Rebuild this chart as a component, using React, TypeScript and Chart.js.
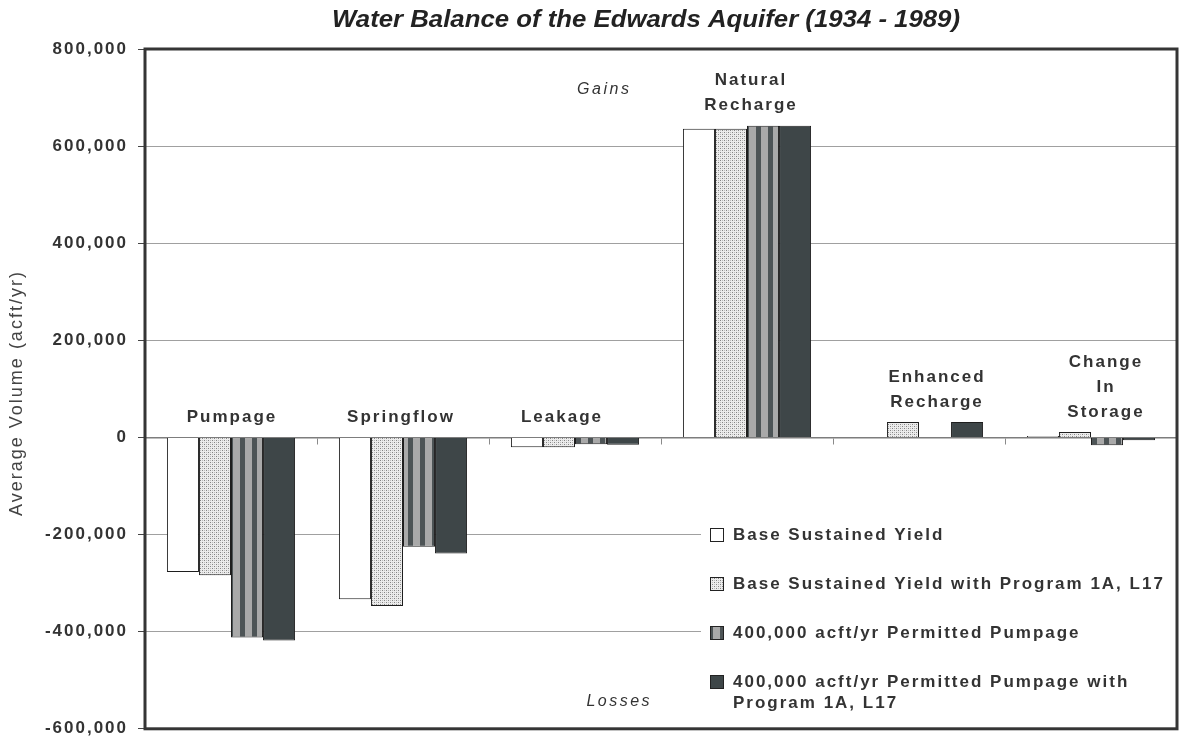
import React, { useEffect, useRef } from 'react';
import { Chart, registerables } from 'chart.js';

Chart.register(...registerables);

// ---------- data ----------
const categories = ['Pumpage', 'Springflow', 'Leakage', 'Natural Recharge', 'Enhanced Recharge', 'Change in Storage'];
const categoryLabelLines = [['Pumpage'], ['Springflow'], ['Leakage'], ['Natural', 'Recharge'], ['Enhanced', 'Recharge'], ['Change', 'In', 'Storage']];
const seriesNames = [
  'Base Sustained Yield',
  'Base Sustained Yield with Program 1A, L17',
  '400,000 acft/yr Permitted Pumpage',
  '400,000 acft/yr Permitted Pumpage with Program 1A, L17',
];
const baseSustainedYield = [-277000, -333000, -20000, 636000, 0, 3000];
const baseWithProgram = [-284000, -347000, -20000, 636000, 32000, 11000];
const permitted400k = [-412000, -225000, -14000, 642000, 0, -16000];
const permitted400kWithProgram = [-418000, -239000, -15000, 642000, 32000, -6000];
const yMin = -600000;
const yMax = 800000;
const yStep = 200000;
const chartTitle = 'Water Balance of the Edwards Aquifer (1934 - 1989)';
const yAxisTitle = 'Average Volume (acft/yr)';
const gainsText = 'Gains';
const lossesText = 'Losses';

// ---------- styling ----------
const labelNudge = [0, -3, -14, 3, 17, 14];
const TEXT = '#333333';
const FONT = '"Liberation Sans", Arial, sans-serif';

function makeStipple(): CanvasPattern | string {
  const c = document.createElement('canvas');
  c.width = 4; c.height = 4;
  const g = c.getContext('2d')!;
  g.fillStyle = '#ececec';
  g.fillRect(0, 0, 4, 4);
  g.fillStyle = '#848484';
  g.fillRect(0, 0, 1, 1);
  g.fillRect(2, 2, 1, 1);
  g.fillStyle = '#bdbdbd';
  g.fillRect(2, 0, 1, 1);
  g.fillRect(0, 2, 1, 1);
  return g.createPattern(c, 'repeat') || '#cccccc';
}

function makeStripes(): CanvasPattern | string {
  const c = document.createElement('canvas');
  c.width = 12; c.height = 4;
  const g = c.getContext('2d')!;
  g.fillStyle = '#a9a9a9';
  g.fillRect(0, 0, 12, 4);
  g.fillStyle = '#4d5456';
  g.fillRect(0, 0, 5, 4);
  return g.createPattern(c, 'repeat') || '#777777';
}

function drawText(ctx: CanvasRenderingContext2D, s: string, x: number, y: number, font: string, align: string, spacing: number, color: string) {
  ctx.font = font;
  (ctx as any).letterSpacing = spacing + 'px';
  ctx.fillStyle = color;
  ctx.textBaseline = 'middle';
  ctx.textAlign = 'left';
  const w = ctx.measureText(s).width - spacing;
  let sx = x;
  if (align === 'center') sx = x - w / 2;
  else if (align === 'right') sx = x - w;
  ctx.fillText(s, sx, y);
}

function wrapWords(ctx: CanvasRenderingContext2D, s: string, maxW: number): string[] {
  const words = s.split(' ');
  const lines: string[] = [];
  let cur = '';
  for (const w of words) {
    const t = cur ? cur + ' ' + w : w;
    if (ctx.measureText(t).width > maxW && cur) {
      lines.push(cur);
      cur = w;
    } else cur = t;
  }
  if (cur) lines.push(cur);
  return lines;
}

export default function App() {
  const ref = useRef<HTMLCanvasElement | null>(null);

  useEffect(() => {
    const canvas = ref.current;
    if (!canvas) return;
    const stipple = makeStipple();
    const stripes = makeStripes();
    const fills: any[] = ['#ffffff', stipple, stripes, '#3e4648'];
    const seriesData = [baseSustainedYield, baseWithProgram, permitted400k, permitted400kWithProgram];

    const decor = {
      id: 'decor',
      beforeDraw(chart: any) {
        (chart.ctx as any).letterSpacing = '2px';
      },
      afterDraw(chart: any) {
        const ctx: CanvasRenderingContext2D = chart.ctx;
        const { left, right, top, bottom } = chart.chartArea;
        const xs = chart.scales.x;
        const ys = chart.scales.y;
        ctx.save();

        // title (condensed bold italic)
        ctx.font = `italic bold 24px "Liberation Sans Narrow", ${FONT}`;
        (ctx as any).letterSpacing = '0px';
        const tw = ctx.measureText(chartTitle).width;
        ctx.save();
        ctx.translate(646, 20);
        ctx.scale(628 / tw, 1);
        ctx.fillStyle = '#222';
        ctx.textAlign = 'center';
        ctx.textBaseline = 'middle';
        ctx.fillText(chartTitle, 0, 0);
        ctx.restore();

        // y axis title
        ctx.save();
        ctx.translate(17, 394);
        ctx.rotate(-Math.PI / 2);
        drawText(ctx, yAxisTitle, 0, 0, `18px ${FONT}`, 'center', 2, '#444');
        ctx.restore();

        // category labels
        categories.forEach((_, i) => {
          const maxVal = Math.max(0, ...seriesData.map((d) => d[i]));
          const yTop = ys.getPixelForValue(maxVal);
          const cx = xs.getPixelForValue(i) + labelNudge[i];
          const lines = categoryLabelLines[i];
          lines.forEach((ln, j) => {
            const cy = yTop - 20 - (lines.length - 1 - j) * 25;
            drawText(ctx, ln, cx, cy, `bold 17px ${FONT}`, 'center', 2, TEXT);
          });
        });

        // gains / losses
        drawText(ctx, gainsText, 603, 90, `italic 16px ${FONT}`, 'center', 2.5, TEXT);
        drawText(ctx, lossesText, 618, 702, `italic 16px ${FONT}`, 'center', 2.5, TEXT);

        // legend
        ctx.fillStyle = '#ffffff';
        ctx.fillRect(701, 512, right - 701 - 1, 212);
        chart.data.datasets.forEach((ds: any, i: number) => {
          const ry = 535 + i * 49;
          ctx.fillStyle = fills[i];
          ctx.fillRect(710, ry - 7, 14, 14);
          ctx.strokeStyle = '#222';
          ctx.lineWidth = 1;
          ctx.strokeRect(710.5, ry - 6.5, 13, 13);
          ctx.font = `bold 17px ${FONT}`;
          (ctx as any).letterSpacing = '2px';
          const lines = wrapWords(ctx, ds.label, right - 733);
          lines.forEach((ln, j) => {
            drawText(ctx, ln, 733, ry + j * 21, `bold 17px ${FONT}`, 'left', 2, TEXT);
          });
        });

        // frame
        ctx.strokeStyle = '#353535';
        ctx.lineWidth = 3;
        ctx.strokeRect(left, top, right - left, bottom - top);
        ctx.restore();
      },
    };

    const chart = new Chart(canvas, {
      type: 'bar',
      data: {
        labels: categories,
        datasets: seriesNames.map((name, i) => ({
          label: name,
          data: seriesData[i],
          backgroundColor: fills[i],
          borderColor: '#1e1e1e',
          borderWidth: 1,
          borderSkipped: 'start',
          categoryPercentage: 0.745,
          barPercentage: 1.0,
        })),
      },
      options: {
        responsive: false,
        animation: false,
        devicePixelRatio: 1,
        layout: { padding: { top: 49, bottom: 9, left: 0, right: 3 } },
        plugins: {
          legend: { display: false },
          title: { display: false },
          tooltip: { enabled: false },
        },
        scales: {
          x: {
            position: { y: 0 } as any,
            offset: true,
            grid: {
              display: true,
              drawOnChartArea: false,
              drawTicks: true,
              tickLength: 6,
              color: '#8a8a8a',
              offset: true,
            },
            border: { display: true, color: '#7d7d7d', width: 1.5 },
            ticks: { display: false },
          },
          y: {
            min: yMin,
            max: yMax,
            ticks: {
              stepSize: yStep,
              color: TEXT,
              font: { family: FONT, size: 17, weight: 'bold' },
              padding: 10,
              callback: (v: any) => Number(v).toLocaleString('en-US'),
            },
            grid: { color: '#a0a0a0', lineWidth: 1, tickLength: 7, tickColor: '#444' },
            border: { display: false },
            afterFit: (s: any) => {
              s.width = 145;
            },
          },
        },
      },
      plugins: [decor],
    });
    return () => chart.destroy();
  }, []);

  return (
    <div style={{ position: 'fixed', left: 0, top: 0, width: 1180, height: 749, background: '#fff' }}>
      <canvas ref={ref} width={1180} height={749} style={{ display: 'block' }} />
    </div>
  );
}
